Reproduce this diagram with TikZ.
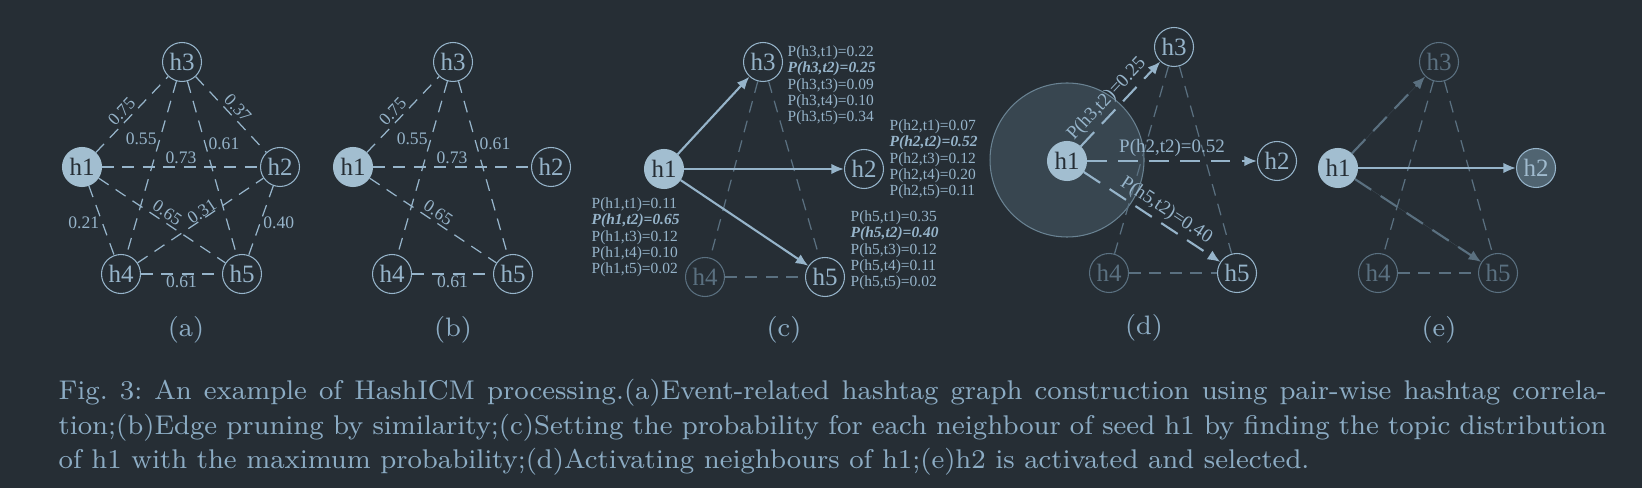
\documentclass[tikz,border=0pt]{standalone}
\usepackage{fontspec}
\newfontfamily\labfont{Liberation Serif}
\usetikzlibrary{arrows.meta}
\hyphenpenalty=10000
\definecolor{bg}{RGB}{38,46,53}
\definecolor{ink}{RGB}{150,180,202}
\definecolor{seed}{RGB}{162,190,208}
\definecolor{dim}{RGB}{90,112,128}
\definecolor{capt}{RGB}{140,172,196}
\definecolor{halo}{RGB}{56,70,80}
\definecolor{halorim}{RGB}{105,130,146}
\definecolor{chosen}{RGB}{80,100,113}
\tikzset{
  hnode/.style={circle, draw=ink, line width=0.3pt, minimum size=3.9mm, inner sep=0pt,
    text=ink, font=\labfont\fontsize{7.1}{7.5}\selectfont},
  hseed/.style={hnode, fill=seed, draw=seed, text=bg},
  hdim/.style={hnode, draw=dim, text=dim},
  hchosen/.style={hnode, fill=chosen, text=ink!90!white},
  sim/.style={draw=ink, line width=0.35pt, dash pattern=on 3.4pt off 2.4pt},
  simdim/.style={sim, draw=dim},
  wlab/.style={font=\labfont\fontsize{5}{5}\selectfont, text=ink, inner sep=0.8pt},
  act/.style={draw=ink, line width=0.6pt, -{Latex[length=3.6pt, width=3pt]}},
  try/.style={act, dash pattern=on 5.6pt off 3.2pt},
  prob/.style={font=\labfont\fontsize{4.4}{4.65}\selectfont, text=ink, align=left, inner sep=0pt},
  plab/.style={font=\labfont\fontsize{5.4}{5.4}\selectfont, text=ink, inner sep=1pt},
  sub/.style={font=\fontsize{7.6}{8}\selectfont, text=capt},
}
\newcommand{\pbold}[1]{\textbf{\textit{#1}}}
\begin{document}
\begin{tikzpicture}[x=0.1mm, y=-0.1mm]
\fill[bg] (0,0) rectangle (1642,488);
\useasboundingbox (0,0) rectangle (1642,488);

% (a) full hashtag graph
\node[hseed] (a1) at (82,167) {h1};
\node[hnode] (a2) at (280,167) {h2};
\node[hnode] (a3) at (182,62) {h3};
\node[hnode] (a4) at (121,274) {h4};
\node[hnode] (a5) at (242,274) {h5};
\draw[sim] (a1) -- node[wlab, sloped, above, pos=0.45] {0.75} (a3);
\draw[sim] (a3) -- node[wlab, sloped, above] {0.37} (a2);
\draw[sim] (a1) -- node[wlab, above] {0.73} (a2);
\draw[sim] (a3) -- node[wlab, left, pos=0.33] {0.55} (a4);
\draw[sim] (a3) -- node[wlab, right, pos=0.36] {0.61} (a5);
\draw[sim] (a1) -- node[wlab, sloped, above, pos=0.5] {0.65} (a5);
\draw[sim] (a4) -- node[wlab, sloped, above, inner sep=0pt, pos=0.54] {0.31} (a2);
\draw[sim] (a1) -- node[wlab, left, pos=0.54] {0.21} (a4);
\draw[sim] (a2) -- node[wlab, right, pos=0.54] {0.40} (a5);
\draw[sim] (a4) -- node[wlab, below, inner sep=0.3pt] {0.61} (a5);
\node[sub] (la) at (186,330) {(a)};

% (b) pruned graph
\node[hseed] (b1) at (353,167) {h1};
\node[hnode] (b2) at (551,167) {h2};
\node[hnode] (b3) at (453,62) {h3};
\node[hnode] (b4) at (392,274) {h4};
\node[hnode] (b5) at (513,274) {h5};
\draw[sim] (b1) -- node[wlab, sloped, above, pos=0.45] {0.75} (b3);
\draw[sim] (b1) -- node[wlab, above] {0.73} (b2);
\draw[sim] (b3) -- node[wlab, left, pos=0.33] {0.55} (b4);
\draw[sim] (b3) -- node[wlab, right, pos=0.36] {0.61} (b5);
\draw[sim] (b1) -- node[wlab, sloped, above, pos=0.5] {0.65} (b5);
\draw[sim] (b4) -- node[wlab, below, inner sep=0.3pt] {0.61} (b5);
\node[sub] (lb) at (453,330) {(b)};

% (c) topic probabilities
\node[hseed] (c1) at (664,169) {h1};
\node[hnode] (c2) at (864,169) {h2};
\node[hnode] (c3) at (763,62) {h3};
\node[hdim] (c4) at (705,277) {h4};
\node[hnode] (c5) at (825,277) {h5};
\draw[simdim] (c3) -- (c4);
\draw[simdim] (c3) -- (c5);
\draw[simdim] (c4) -- (c5);
\draw[act] (c1) -- (c3);
\draw[act] (c1) -- (c2);
\draw[act] (c1) -- (c5);
\node[prob, anchor=north west] (pc3) at (787,45)
  {P(h3,t1)=0.22\\\pbold{P(h3,t2)=0.25}\\P(h3,t3)=0.09\\P(h3,t4)=0.10\\P(h3,t5)=0.34};
\node[prob, anchor=north west] (pc2) at (889,119)
  {P(h2,t1)=0.07\\\pbold{P(h2,t2)=0.52}\\P(h2,t3)=0.12\\P(h2,t4)=0.20\\P(h2,t5)=0.11};
\node[prob, anchor=north west] (pc1) at (591,197)
  {P(h1,t1)=0.11\\\pbold{P(h1,t2)=0.65}\\P(h1,t3)=0.12\\P(h1,t4)=0.10\\P(h1,t5)=0.02};
\node[prob, anchor=north west] (pc5) at (850,210)
  {P(h5,t1)=0.35\\\pbold{P(h5,t2)=0.40}\\P(h5,t3)=0.12\\P(h5,t4)=0.11\\P(h5,t5)=0.02};
\node[sub] (lc) at (784,330) {(c)};

% (d) activation attempts
\fill[halo, draw=halorim, line width=0.3pt] (1067,160) circle [radius=7.7mm];
\node[hseed] (d1) at (1067,161) {h1};
\node[hnode] (d2) at (1277,161) {h2};
\node[hnode] (d3) at (1174,47) {h3};
\node[hdim] (d4) at (1109,273) {h4};
\node[hnode] (d5) at (1237,273) {h5};
\draw[simdim] (d3) -- (d4);
\draw[simdim] (d3) -- (d5);
\draw[simdim] (d4) -- (d5);
\draw[try] (d1) -- node[plab, sloped, above, pos=0.45] {P(h3,t2)=0.25} (d3);
\draw[try] (d1) -- node[plab, above, pos=0.5] {P(h2,t2)=0.52} (d2);
\draw[try] (d1) -- node[plab, sloped, above, pos=0.55] {P(h5,t2)=0.40} (d5);
\node[sub] (ld) at (1144,328) {(d)};

% (e) h2 selected
\node[hseed] (e1) at (1338,168) {h1};
\node[hchosen] (e2) at (1536,168) {h2};
\node[hdim] (e3) at (1439,62) {h3};
\node[hdim] (e4) at (1378,273) {h4};
\node[hdim] (e5) at (1498,273) {h5};
\draw[simdim] (e3) -- (e4);
\draw[simdim] (e3) -- (e5);
\draw[simdim] (e4) -- (e5);
\draw[try, draw=dim, fill=dim] (e1) -- (e3);
\draw[try, draw=dim, fill=dim] (e1) -- (e5);
\draw[act] (e1) -- (e2);
\node[sub] (le) at (1439,330) {(e)};

% caption
\node[anchor=north west, text width=154.8mm, align=justify, inner sep=0pt, text=capt,
  font=\fontsize{7.7}{9.8}\selectfont\frenchspacing] (cap) at (58,379)
  {Fig. 3: An example of HashICM processing.(a)Event-related hashtag graph construction using pair-wise hashtag correla-\linebreak
  tion;(b)Edge pruning by similarity;(c)Setting the probability for each neighbour of seed h1 by finding the topic distribution\linebreak
  of h1 with the maximum probability;(d)Activating neighbours of h1;(e)h2 is activated and selected.};
\end{tikzpicture}
\end{document}
